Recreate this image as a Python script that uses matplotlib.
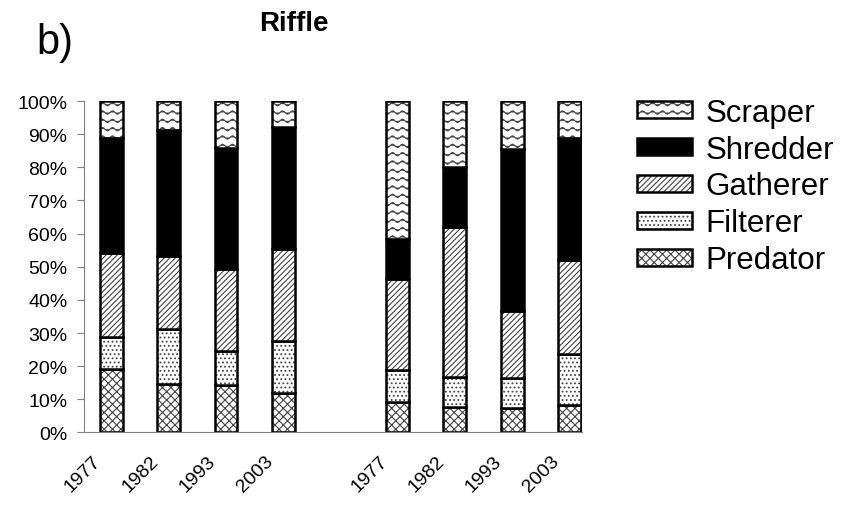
import warnings
import numpy as np
import matplotlib
matplotlib.use("Agg")
import matplotlib.pyplot as plt
import matplotlib.transforms as mtransforms
from matplotlib import hatch as mhatch
from matplotlib.path import Path

warnings.filterwarnings("ignore")

# stacked shares (%) per bar, bottom to top
years = ["1977", "1982", "1993", "2003", "1977", "1982", "1993", "2003"]
positions = [0, 1, 2, 3, 5, 6, 7, 8]
groups = ["Predator", "Filterer", "Gatherer", "Shredder", "Scraper"]
predator = [19.2, 14.7, 14.4, 12.0, 9.3, 7.8, 7.5, 8.4]
filterer = [9.6, 16.5, 10.2, 15.6, 9.6, 9.0, 9.0, 15.3]
gatherer = [25.5, 22.2, 24.6, 27.7, 27.3, 45.1, 20.1, 28.3]
shredder = [34.6, 37.9, 36.7, 36.9, 12.1, 18.3, 49.0, 36.9]
scraper = [11.1, 8.7, 14.1, 7.8, 41.7, 19.8, 14.4, 11.1]
yticks = [0, 10, 20, 30, 40, 50, 60, 70, 80, 90, 100]


class WavyHatch(mhatch.HatchPatternBase):
    """Wavy lines for the '~' hatch character."""

    def __init__(self, hatch, density):
        self.num_lines = int(hatch.count("~") * density)
        self.nseg = 80
        self.num_vertices = self.num_lines * (self.nseg + 1)

    def set_vertices_and_codes(self, vertices, codes):
        steps, stepsize = np.linspace(0.0, 1.0, self.num_lines, False, retstep=True)
        steps += stepsize / 2.0
        xs = np.linspace(0.0, 1.0, self.nseg + 1)
        n = self.nseg + 1
        for i, y0 in enumerate(steps):
            vertices[i * n:(i + 1) * n, 0] = xs
            vertices[i * n:(i + 1) * n, 1] = y0 + stepsize * 0.2 * np.sin(2 * np.pi * 10 * xs)
            codes[i * n] = Path.MOVETO
            codes[i * n + 1:(i + 1) * n] = Path.LINETO


mhatch._hatch_types.append(WavyHatch)

plt.rcParams["font.family"] = ["Liberation Sans", "DejaVu Sans"]
plt.rcParams["hatch.linewidth"] = 0.8

fig = plt.figure(figsize=(8.5, 5.06), dpi=100)
ax = fig.add_axes([84 / 850, 0.1433, 498 / 850, 0.655])

series = [predator, filterer, gatherer, shredder, scraper]
hatches = ["xxxx", "....", "//////", None, "~~"]
faces = ["white", "white", "white", "black", "white"]

bottom = np.zeros(len(years))
handles = []
for name, vals, h, fc in zip(groups, series, hatches, faces):
    # gray hatch layer, then black outline on top
    fill = ax.bar(positions, vals, 0.4, bottom=bottom, color=fc, edgecolor="#444444",
                  linewidth=0, hatch=h)
    edge = ax.bar(positions, vals, 0.4, bottom=bottom, facecolor="none", edgecolor="black",
                  linewidth=1.8)
    bottom += np.array(vals)
    handles.append((fill, edge))

ax.set_ylim(0, 100)
ax.set_xlim(-0.48, 8.22)
ax.set_yticks(yticks)
ax.set_yticklabels([f"{t}%" for t in yticks], fontsize=14)
ax.set_xticks(positions)
ax.set_xticklabels(years, rotation=45, ha="right", va="top", rotation_mode="anchor", fontsize=14)
ax.tick_params(axis="x", length=0, pad=0)
ax.tick_params(axis="y", length=5, color="#808080", direction="out", pad=7)
shift = mtransforms.ScaledTranslation(-0.19, -0.2, fig.dpi_scale_trans)
for lab in ax.get_xticklabels():
    lab.set_transform(lab.get_transform() + shift)
for s in ["top", "right"]:
    ax.spines[s].set_visible(False)
for s in ["left", "bottom"]:
    ax.spines[s].set_color("#808080")

leg = fig.legend(handles[::-1], groups[::-1], loc="upper left", bbox_to_anchor=(637 / 850, 0.805),
                 frameon=False, fontsize=22.5, handlelength=1.75, handleheight=0.46,
                 handletextpad=0.45, labelspacing=0.22, borderpad=0, borderaxespad=0)

fig.text(0.346, 0.952, "Riffle", fontsize=20, fontweight="bold", ha="center", va="center")
fig.text(0.065, 0.915, "b)", fontsize=30, ha="center", va="center")

fig.savefig("out.png", dpi=100)
